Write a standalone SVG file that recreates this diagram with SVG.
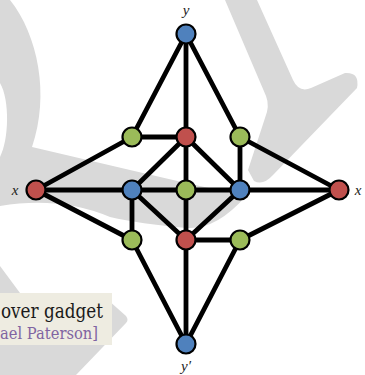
<svg xmlns="http://www.w3.org/2000/svg" width="365" height="375" viewBox="0 0 365 375">
<style>
.wm{fill:#d9d9d9;stroke:none}
.e{stroke:#000;stroke-width:4.8;stroke-linecap:round;fill:none}
.n{stroke:#000;stroke-width:2.2}
.b{fill:#4f81bd}
.r{fill:#c0504d}
.g{fill:#9bbb59}
.lbl{font-family:"Liberation Serif",serif;font-style:italic;font-size:15px;fill:#222}
.cap1{font-family:"DejaVu Serif","Liberation Serif",serif;font-size:20px;fill:#1a1a1a}
.cap2{font-family:"DejaVu Serif","Liberation Serif",serif;font-size:17px;fill:#8064a2}
</style>
<rect width="365" height="375" fill="#fff"/>
<g id="watermark">
<path class="wm" d="M0,0 L10,0 C38,35 50,95 32,147 L130,170 L186,183 L246,196 Q216,230 187,228 Q140,224 110,217 Q60,196 0,206 L0,157 C9,140 10,100 0,83 Z"/>
<path class="wm" d="M225,0 L257,0 L293,80 Q299,93 311,88 L345,73 Q360,72 357,88 L273,175 Q263,186 254,181 L248,170 L265,118 Q270,106 266,96 Z"/>
<path class="wm" d="M0,266 L20,293 L108,300 L126,316 Q129,320 126,323 L76,375 L0,375 Z"/>
</g>
<g id="caption">
<rect x="0" y="293" width="112" height="52" fill="#eeece1"/>
<text class="cap1" x="1" y="318" textLength="102" lengthAdjust="spacingAndGlyphs">over gadget</text>
<text class="cap2" x="0" y="339" textLength="98" lengthAdjust="spacingAndGlyphs">ael Paterson]</text>
</g>
<g id="edges">
<line class="e" x1="186" y1="34" x2="132" y2="137"/>
<line class="e" x1="186" y1="34" x2="186" y2="137"/>
<line class="e" x1="186" y1="34" x2="240" y2="137"/>
<line class="e" x1="132" y1="137" x2="186" y2="137"/>
<line class="e" x1="132" y1="137" x2="36" y2="190"/>
<line class="e" x1="240" y1="137" x2="339" y2="190"/>
<line class="e" x1="240" y1="137" x2="240" y2="190"/>
<line class="e" x1="186" y1="137" x2="132" y2="190"/>
<line class="e" x1="186" y1="137" x2="186" y2="190"/>
<line class="e" x1="186" y1="137" x2="240" y2="190"/>
<line class="e" x1="36" y1="190" x2="339" y2="190"/>
<line class="e" x1="36" y1="190" x2="132" y2="240"/>
<line class="e" x1="132" y1="190" x2="132" y2="240"/>
<line class="e" x1="132" y1="190" x2="186" y2="240"/>
<line class="e" x1="186" y1="190" x2="186" y2="240"/>
<line class="e" x1="240" y1="190" x2="186" y2="240"/>
<line class="e" x1="186" y1="240" x2="240" y2="240"/>
<line class="e" x1="240" y1="240" x2="339" y2="190"/>
<line class="e" x1="132" y1="240" x2="186" y2="344"/>
<line class="e" x1="186" y1="240" x2="186" y2="344"/>
<line class="e" x1="240" y1="240" x2="186" y2="344"/>
</g>
<g id="n-y"><circle class="n b" cx="186" cy="34" r="9.5"/><text class="lbl" x="186" y="15" text-anchor="middle">y</text></g>
<g id="n-gTL"><circle class="n g" cx="132" cy="137" r="9.5"/></g>
<g id="n-rTC"><circle class="n r" cx="186" cy="137" r="9.5"/></g>
<g id="n-gTR"><circle class="n g" cx="240" cy="137" r="9.5"/></g>
<g id="n-xL"><circle class="n r" cx="36" cy="190" r="9.5"/><text class="lbl" x="15" y="195" text-anchor="middle">x</text></g>
<g id="n-bL"><circle class="n b" cx="132" cy="190" r="9.5"/></g>
<g id="n-gC"><circle class="n g" cx="186" cy="190" r="9.5"/></g>
<g id="n-bR"><circle class="n b" cx="240" cy="190" r="9.5"/></g>
<g id="n-xR"><circle class="n r" cx="339" cy="190" r="9.5"/><text class="lbl" x="358" y="195" text-anchor="middle">x</text></g>
<g id="n-gBL"><circle class="n g" cx="132" cy="240" r="9.5"/></g>
<g id="n-rBC"><circle class="n r" cx="186" cy="240" r="9.5"/></g>
<g id="n-gBR"><circle class="n g" cx="240" cy="240" r="9.5"/></g>
<g id="n-yp"><circle class="n b" cx="186" cy="344" r="9.5"/><text class="lbl" x="186" y="371" text-anchor="middle">y′</text></g>
</svg>
